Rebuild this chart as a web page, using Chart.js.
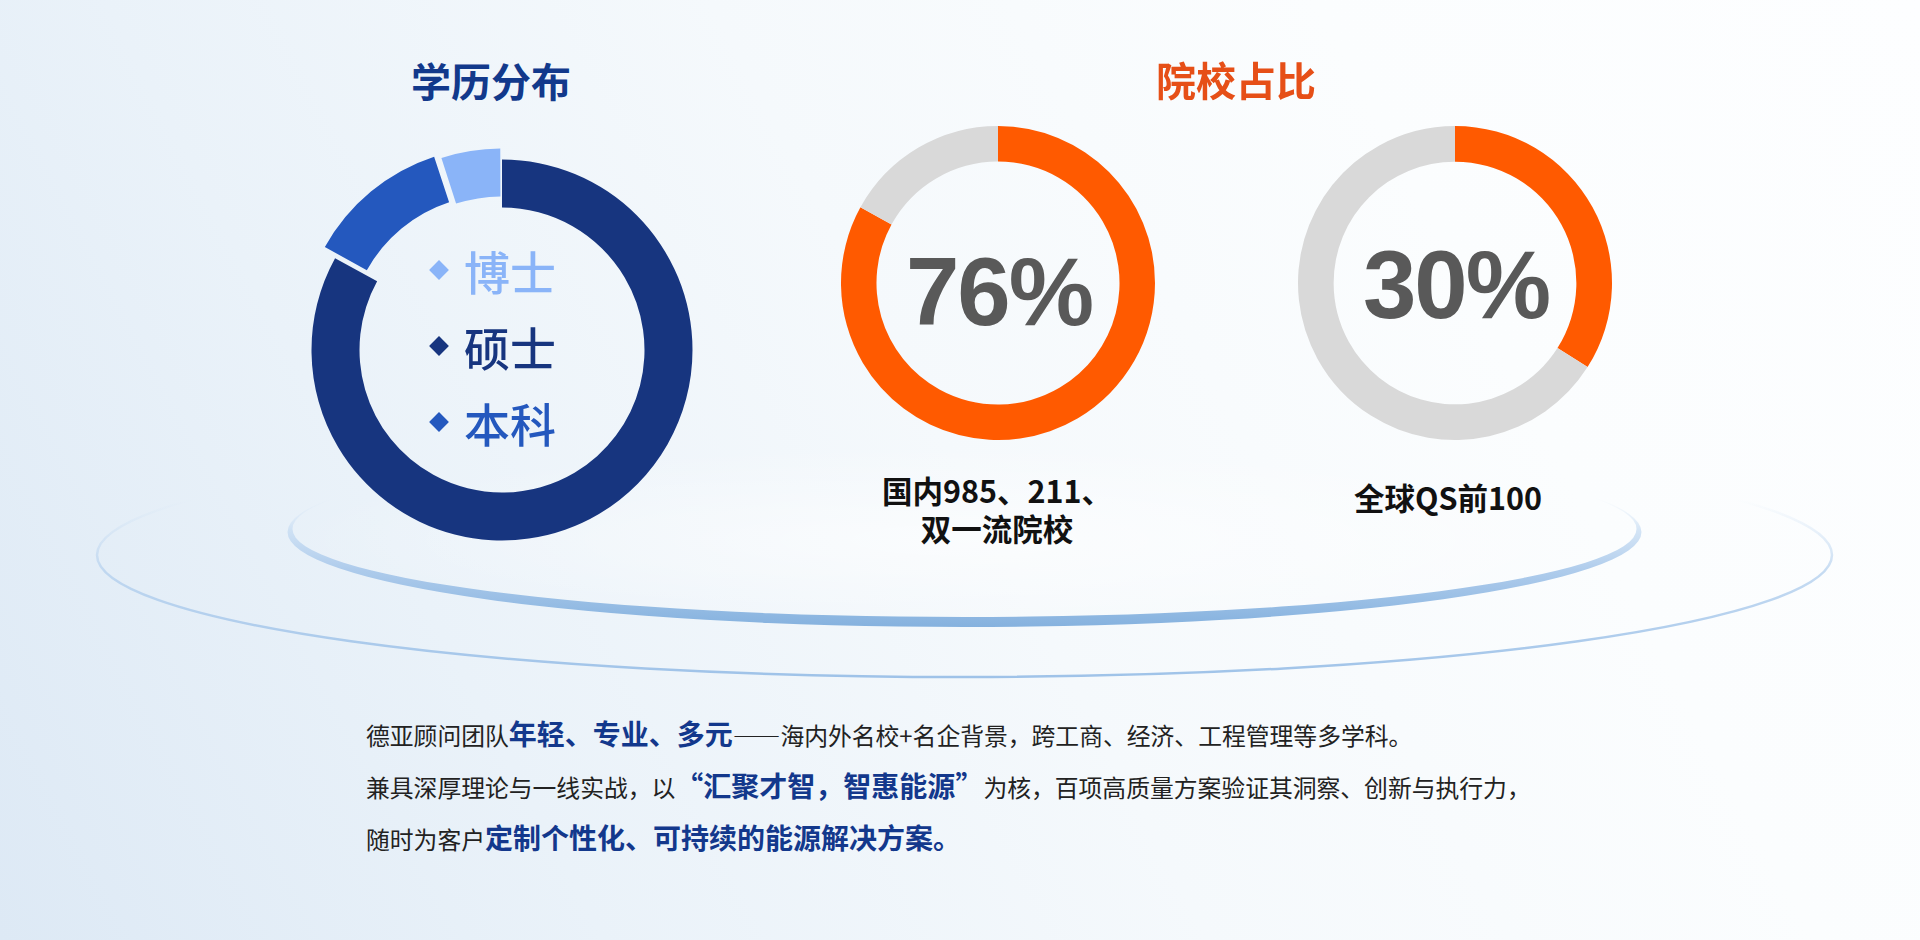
<!DOCTYPE html>
<html lang="zh-CN">
<head>
<meta charset="utf-8">
<title>学历分布 / 院校占比</title>
<script src="https://cdn.jsdelivr.net/npm/chart.js@4.4.0/dist/chart.umd.min.js"></script>
<style>
  html, body { margin: 0; padding: 0; }
  body {
    width: 1920px; height: 940px; overflow: hidden; position: relative;
    font-family: "Noto Sans CJK SC", "Noto Sans", sans-serif;
    background: linear-gradient(62deg, #dde9f5 0%, #eaf2f9 25%, #f5f9fc 50%, #fbfdfe 75%, #fdfeff 100%);
  }
  #bg { position: absolute; left: 0; top: 0; z-index: 0; }
  .chartBox { position: absolute; z-index: 1; }
  .title { position: absolute; width: 240px; text-align: center; font-size: 40px; font-weight: 700; line-height: 50px; z-index: 2; white-space: nowrap; }
  .pct { position: absolute; width: 300px; text-align: center; font-family: "Liberation Sans", Arial, sans-serif; font-weight: 700; font-size: 96px; line-height: 96px; letter-spacing: -2px; color: #595959; z-index: 2; }
  .sub { position: absolute; width: 320px; text-align: center; font-size: 30.5px; font-weight: 700; line-height: 38px; color: #111; z-index: 2; white-space: nowrap; }
  #legend { position: absolute; left: 430px; top: 232px; z-index: 2; }
  .lg { display: flex; align-items: center; height: 76px; font-size: 46px; font-weight: 500; line-height: 76px; white-space: nowrap; }
  .dia { width: 14px; height: 14px; transform: rotate(45deg); margin-left: 2px; margin-right: 18px; }
  #para { position: absolute; left: 366px; top: 708px; font-size: 23.8px; line-height: 51px; color: #222; white-space: nowrap; z-index: 2; }
  #para b { font-size: 28px; font-weight: 700; color: #13388c; }
  .fw { display: inline-block; width: 1em; text-align: right; }
  .fw.l { text-align: left; }
</style>
</head>
<body>
<svg id="bg" width="1920" height="940" viewBox="0 0 1920 940">
  <defs>
    <linearGradient id="gOuter" gradientUnits="userSpaceOnUse" x1="0" y1="679" x2="0" y2="500">
      <stop offset="0" stop-color="#9ec2e8" stop-opacity="1"/>
      <stop offset="0.6" stop-color="#b4d0ee" stop-opacity="0.75"/>
      <stop offset="1" stop-color="#c8ddf3" stop-opacity="0"/>
    </linearGradient>
    <linearGradient id="gRing" gradientUnits="userSpaceOnUse" x1="0" y1="628" x2="0" y2="498">
      <stop offset="0" stop-color="#84b1de" stop-opacity="1"/>
      <stop offset="0.45" stop-color="#a7c7ea" stop-opacity="0.9"/>
      <stop offset="0.75" stop-color="#c3daf2" stop-opacity="0.7"/>
      <stop offset="1" stop-color="#dce9f7" stop-opacity="0"/>
    </linearGradient>
    <radialGradient id="gGlow" cx="964.5" cy="540" r="680" gradientUnits="userSpaceOnUse" gradientTransform="translate(0 540) scale(1 0.14) translate(0 -540)">
      <stop offset="0" stop-color="#ffffff" stop-opacity="0.6"/>
      <stop offset="1" stop-color="#ffffff" stop-opacity="0"/>
    </radialGradient>
  </defs>
  <ellipse cx="964.5" cy="532" rx="672" ry="88" fill="url(#gGlow)"/>
  <ellipse cx="964.5" cy="555" rx="867.5" ry="122" fill="none" stroke="url(#gOuter)" stroke-width="2.5"/>
  <path fill="url(#gRing)" fill-rule="evenodd"
        d="M287.5 532 A677 95 0 1 0 1641.5 532 A677 95 0 1 0 287.5 532 Z
           M292.5 529 A672 88 0 1 0 1636.5 529 A672 88 0 1 0 292.5 529 Z"/>
</svg>

<div class="title" style="left:371px; top:55px; color:#12398b;">学历分布</div>
<div class="title" style="left:1116px; top:54px; color:#e64f17;">院校占比</div>

<div class="chartBox" style="left:282px; top:130px; width:440px; height:440px;"><canvas id="eduChart" width="440" height="440"></canvas></div>
<div class="chartBox" style="left:818px; top:103px; width:360px; height:360px;"><canvas id="domChart" width="360" height="360"></canvas></div>
<div class="chartBox" style="left:1275px; top:103px; width:360px; height:360px;"><canvas id="qsChart" width="360" height="360"></canvas></div>

<div id="legend"></div>

<div class="pct" id="pct0" style="left:849px; top:244px;"></div>
<div class="pct" id="pct1" style="left:1306px; top:237px;"></div>

<div class="sub" id="sub0" style="left:837px; top:471px;"></div>
<div class="sub" id="sub1" style="left:1288px; top:478px;"></div>

<div id="para">德亚顾问团队<b>年轻、专业、多元</b>——海内外名校+名企背景，跨工商、经济、工程管理等多学科。<br>兼具深厚理论与一线实战，以<b><span class="fw">“</span>汇聚才智，智惠能源<span class="fw l">”</span></b>为核，百项高质量方案验证其洞察、创新与执行力，<br>随时为客户<b>定制个性化、可持续的能源解决方案。</b></div>

<script>
// ---- data ----
const eduLabels = ['硕士', '本科', '博士'];
const eduValues = [83, 12, 5];
const legendOrder = ['博士', '硕士', '本科'];

const schoolCategories = ['院校', '其他'];
const domesticValues = [83, 17];
const qsValues = [34, 66];
const schoolPercentLabels = ['76%', '30%'];
const schoolCaptions = [['国内985、211、', '双一流院校'], ['全球QS前100']];

// ---- styles ----
const eduColors = ['#17357f', '#2458be', '#8ab4f8'];
const eduOffsets = [0, 46, 26];
const schoolColors = ['#ff5a00', '#d9d9d9'];

Chart.defaults.font.family = '"Noto Sans CJK SC", sans-serif';

function donut(id, labels, values, colors, radius, cutout, offsets) {
  return new Chart(document.getElementById(id), {
    type: 'doughnut',
    data: {
      labels: labels,
      datasets: [{
        data: values,
        backgroundColor: colors,
        borderWidth: 0,
        offset: offsets || 0,
        hoverOffset: 0
      }]
    },
    options: {
      responsive: false,
      animation: false,
      events: [],
      radius: radius,
      cutout: cutout,
      layout: { padding: 0 },
      plugins: { legend: { display: false }, tooltip: { enabled: false } }
    }
  });
}

donut('eduChart', eduLabels, eduValues, eduColors, 190.5, '74.8%', eduOffsets);
donut('domChart', schoolCategories, domesticValues, schoolColors, 157, '77.4%');
donut('qsChart', schoolCategories, qsValues, schoolColors, 157, '77.3%');

// legend in centre of education donut
const legend = document.getElementById('legend');
legendOrder.forEach(name => {
  const color = eduColors[eduLabels.indexOf(name)];
  const row = document.createElement('div');
  row.className = 'lg';
  row.style.color = color;
  const d = document.createElement('span');
  d.className = 'dia';
  d.style.background = color;
  row.appendChild(d);
  row.appendChild(document.createTextNode(name));
  legend.appendChild(row);
});

schoolPercentLabels.forEach((t, i) => { document.getElementById('pct' + i).textContent = t; });
schoolCaptions.forEach((lines, i) => {
  const el = document.getElementById('sub' + i);
  lines.forEach((ln, k) => {
    if (k) el.appendChild(document.createElement('br'));
    el.appendChild(document.createTextNode(ln));
  });
});
</script>
</body>
</html>
